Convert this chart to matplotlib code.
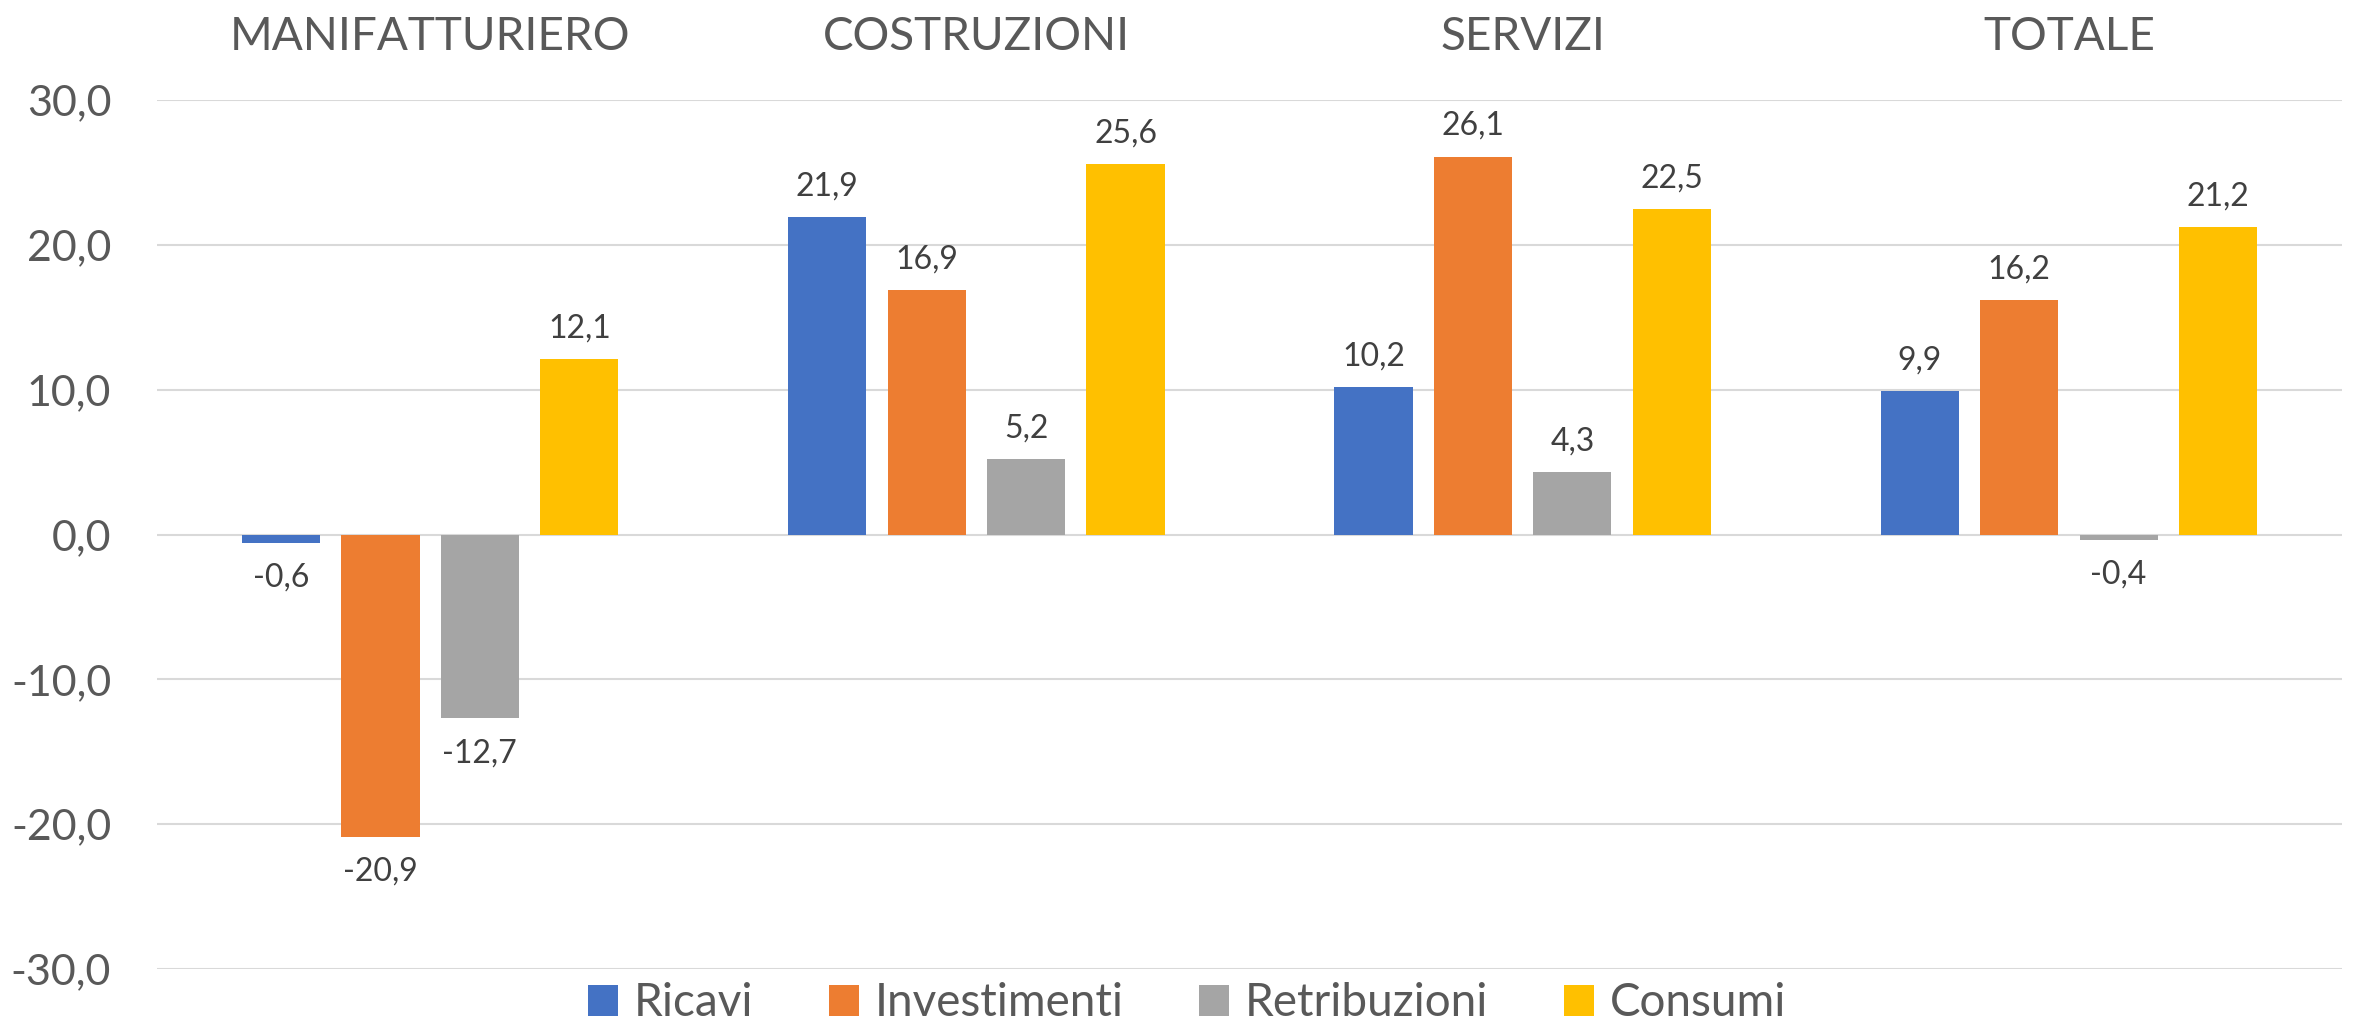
import numpy as np
import matplotlib
matplotlib.use("Agg")
import matplotlib.pyplot as plt

plt.rcParams['font.family'] = ['Lato', 'DejaVu Sans']

categories = ["MANIFATTURIERO", "COSTRUZIONI", "SERVIZI", "TOTALE"]
series = ["Ricavi", "Investimenti", "Retribuzioni", "Consumi"]
ricavi = [-0.6, 21.9, 10.2, 9.9]
investimenti = [-20.9, 16.9, 26.1, 16.2]
retribuzioni = [-12.7, 5.2, 4.3, -0.4]
consumi = [12.1, 25.6, 22.5, 21.2]
values = [ricavi, investimenti, retribuzioni, consumi]
colors = ["#4472C4", "#ED7D31", "#A5A5A5", "#FFC000"]
yticks = [-30, -20, -10, 0, 10, 20, 30]

GREY = "#595959"
fmt = lambda v: f"{v:.1f}".replace(".", ",")

fig = plt.figure(figsize=(23.58, 10.27), dpi=100)
ax = fig.add_axes([0.0666, 0.0565, 0.9266, 0.8461])

x = np.arange(len(categories))
w, step = 0.143, 0.182
for i, (name, vals, c) in enumerate(zip(series, values, colors)):
    xs = x + (i - 1.5) * step
    ax.bar(xs, vals, width=w, color=c, label=name, zorder=3)
    for xi, v in zip(xs, vals):
        off = 22 if v >= 0 else -25
        ax.annotate(fmt(v), (xi, v), xytext=(0, off), textcoords="offset points",
                    ha="center", va="center", fontsize=23, color="#404040")

ax.set_xlim(-0.5, len(categories) - 0.5)
ax.set_ylim(-30, 30)
ax.set_yticks(yticks)
ax.set_yticklabels([fmt(t) for t in yticks])
ax.grid(axis="y", color="#D9D9D9", lw=1.5, zorder=0)
ax.set_xticks(x)
ax.set_xticklabels(categories)
ax.xaxis.tick_top()
ax.tick_params(axis="x", length=0, pad=30, labelsize=33, labelcolor=GREY)
ax.tick_params(axis="y", length=0, pad=33, labelsize=31, labelcolor=GREY)
for s in ax.spines.values():
    s.set_visible(False)

fig.legend(loc="center", bbox_to_anchor=(1187 / 2358, 0.023), ncol=4, frameon=False,
           fontsize=33, labelcolor=GREY, handlelength=0.65, handleheight=0.65,
           handletextpad=0.35, columnspacing=1.65, borderpad=0, borderaxespad=0)

fig.savefig("out.png", dpi=100)
